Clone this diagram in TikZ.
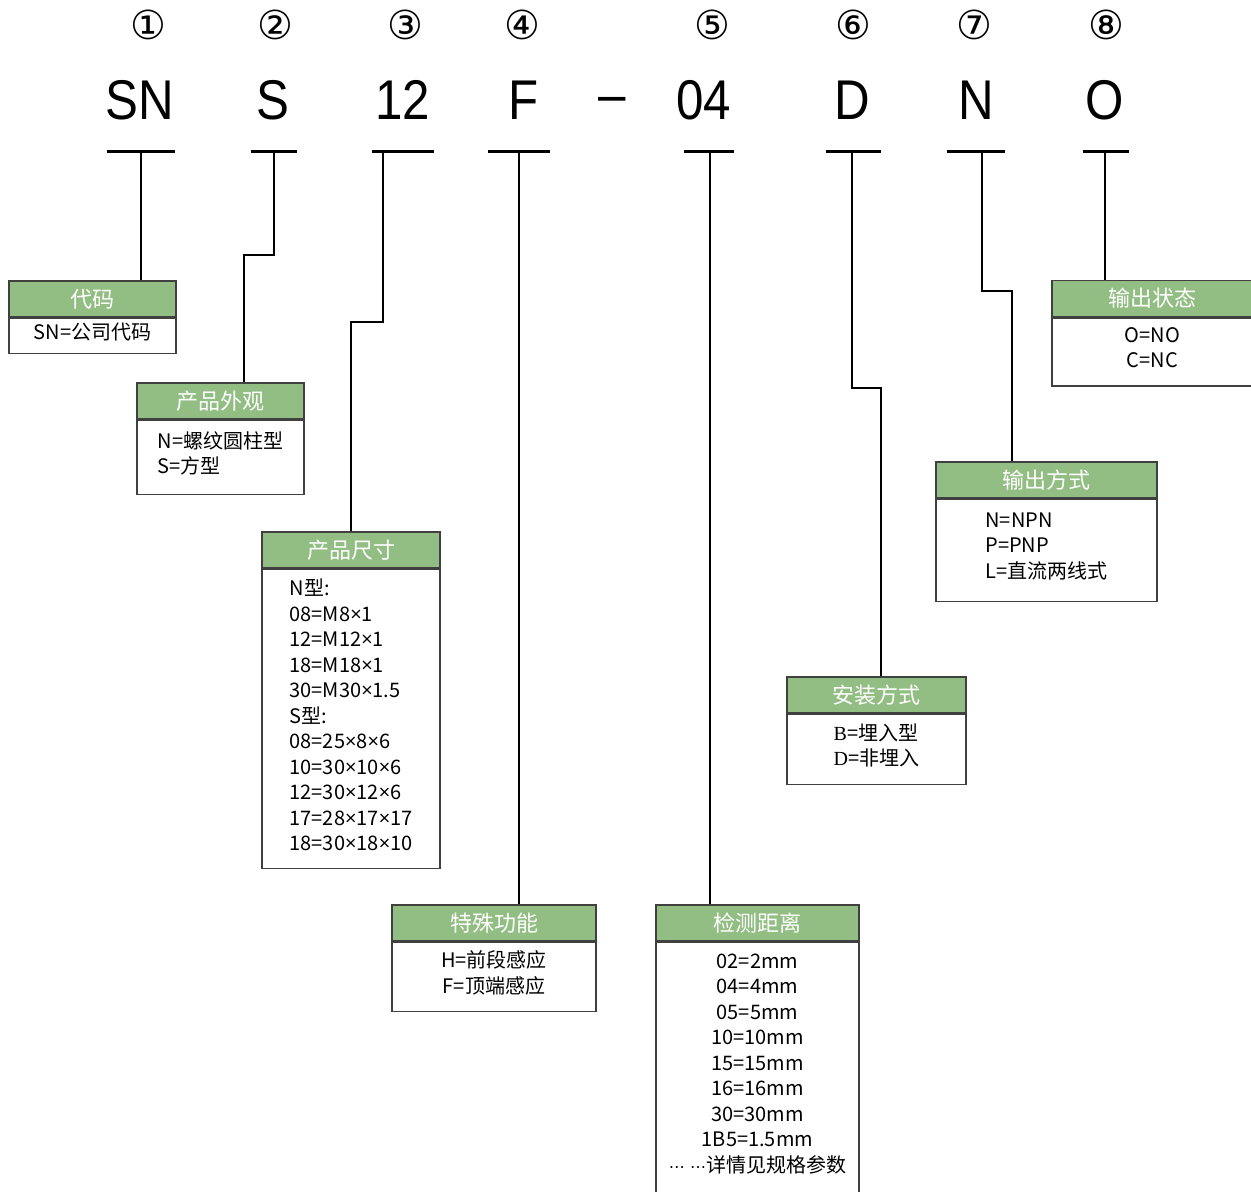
\documentclass[tikz,border=0pt]{standalone}
\usepackage{fontspec}
\setmainfont{Noto Sans CJK SC}
\newfontfamily\codefont[FakeStretch=0.88]{Liberation Sans}
\newfontfamily\thinserif{Liberation Serif}
\newfontfamily\symfont{DejaVu Sans}
\newfontfamily\latfont{Open Sans}
\newcommand\tms{{\latfont ×}}
\usetikzlibrary{positioning}
\definecolor{hdrgreen}{RGB}{146,190,131}
\definecolor{boxline}{RGB}{64,64,64}

\begin{document}
\begin{tikzpicture}[x=1pt,y=-1pt,
  num/.style={inner sep=0pt,font=\symfont\fontsize{40}{42}\selectfont},
  code/.style={font=\codefont\fontsize{56}{60}\selectfont},
  bar/.style={fill=black,inner sep=0pt,minimum height=3pt},
  wire/.style={line width=2pt},
  hdr/.style={draw=boxline,line width=1.4pt,fill=hdrgreen,text=white,inner sep=0pt,minimum height=36pt,font=\fontsize{22}{24}\selectfont},
  bodybox/.style={draw=boxline,line width=1.4pt,anchor=north,inner sep=0pt},
  txt/.style={inner sep=0pt,yshift=4pt,font=\fontsize{20}{25.5}\selectfont}]
\clip (0,0) rectangle (1251,1192);
\node[num] (n1) at (148,25) {①};
\node[num] (n2) at (275,25) {②};
\node[num] (n3) at (405,25) {③};
\node[num] (n4) at (522,25) {④};
\node[num] (n5) at (712,25) {⑤};
\node[num] (n6) at (853,25) {⑥};
\node[num] (n7) at (974,25) {⑦};
\node[num] (n8) at (1106,25) {⑧};
\node[code,inner sep=0pt] (c1) at (140,100) {SN};
\node[code,inner sep=0pt] (c2) at (273,100) {S};
\node[code,inner sep=0pt] (c3) at (403,100) {12};
\node[code,inner sep=0pt] (c4) at (524,100) {F};
\node[code,inner sep=0pt] (dash) at (612,105) {–};
\node[code,inner sep=0pt] (c5) at (704,100) {04};
\node[code,inner sep=0pt] (c6) at (852,100) {D};
\node[code,inner sep=0pt] (c7) at (976,100) {N};
\node[code,inner sep=0pt] (c8) at (1105,100) {O};
\node[bar,minimum width=68pt] (u1) at (141,151) {};
\node[bar,minimum width=46pt] (u2) at (274,151) {};
\node[bar,minimum width=62pt] (u3) at (403,151) {};
\node[bar,minimum width=62pt] (u4) at (519,151) {};
\node[bar,minimum width=50pt] (u5) at (709,151) {};
\node[bar,minimum width=55pt] (u6) at (853,151) {};
\node[bar,minimum width=58pt] (u7) at (976,151) {};
\node[bar,minimum width=46pt] (u8) at (1106,151) {};
\node[hdr,minimum width=167pt] (codeH) at (92.5,299) {代码};
\node[bodybox,minimum width=167pt,minimum height=35pt] (codeB) at (codeH.south) {};
\node[txt,align=center] at (codeB) {SN=公司代码};
\node[hdr,minimum width=167pt] (lookH) at (220.5,401) {产品外观};
\node[bodybox,minimum width=167pt,minimum height=74pt] (lookB) at (lookH.south) {};
\node[txt,align=left] at (lookB) {N=螺纹圆柱型\\S=方型};
\node[hdr,minimum width=178pt] (sizeH) at (351,550) {产品尺寸};
\node[bodybox,minimum width=178pt,minimum height=299pt] (sizeB) at (sizeH.south) {};
\node[txt,align=left] at (sizeB) {N型:\\08=M8\tms1\\12=M12\tms1\\18=M18\tms1\\30=M30\tms1.5\\S型:\\08=25\tms8\tms6\\10=30\tms10\tms6\\12=30\tms12\tms6\\17=28\tms17\tms17\\18=30\tms18\tms10};
\node[hdr,minimum width=204pt] (funcH) at (494,923) {特殊功能};
\node[bodybox,minimum width=204pt,minimum height=69pt] (funcB) at (funcH.south) {};
\node[txt,align=center] at (funcB) {H=前段感应\\F=顶端感应};
\node[hdr,minimum width=203pt] (distH) at (757.5,923) {检测距离};
\node[bodybox,minimum width=203pt,minimum height=270pt] (distB) at (distH.south) {};
\node[txt,align=center,anchor=north] at ([yshift=-16pt]distB.north) {02=2mm\\04=4mm\\05=5mm\\10=10mm\\15=15mm\\16=16mm\\30=30mm\\1B5=1.5mm\\{\symfont\fontsize{16}{20}\selectfont ⋯ ⋯}详情见规格参数};
\node[hdr,minimum width=179pt] (mountH) at (876.5,695) {安装方式};
\node[bodybox,minimum width=179pt,minimum height=70pt] (mountB) at (mountH.south) {};
\node[txt,align=left] at (mountB) {{\thinserif B}=埋入型\\{\thinserif D}=非埋入};
\node[hdr,minimum width=221pt] (outH) at (1046.5,480) {输出方式};
\node[bodybox,minimum width=221pt,minimum height=102pt] (outB) at (outH.south) {};
\node[txt,align=left] at (outB) {N=NPN\\P=PNP\\L=直流两线式};
\node[hdr,minimum width=201pt] (stateH) at (1152.5,298.5) {输出状态};
\node[bodybox,minimum width=201pt,minimum height=68pt] (stateB) at (stateH.south) {};
\node[txt,align=center] at (stateB) {O=NO\\C=NC};
\coordinate (k2) at (244,255);
\coordinate (k3) at (351,322);
\coordinate (k6) at (881,388);
\coordinate (k7) at (1012,291);
\draw[wire] (u1.south) -- (u1.south |- codeH.north);
\draw[wire] (u2.south) |- (k2) -- (k2 |- lookH.north);
\draw[wire] ([xshift=-20pt]u3.south) |- (k3) -- (sizeH.north);
\draw[wire] (u4.south) -- (u4.south |- funcH.north);
\draw[wire] ([xshift=1pt]u5.south) -- ([xshift=1pt]u5.south |- distH.north);
\draw[wire] ([xshift=-1pt]u6.south) |- (k6) -- (k6 |- mountH.north);
\draw[wire] ([xshift=6pt]u7.south) |- (k7) -- (k7 |- outH.north);
\draw[wire] ([xshift=-1pt]u8.south) -- ([xshift=-1pt]u8.south |- stateH.north);
\end{tikzpicture}
\end{document}
